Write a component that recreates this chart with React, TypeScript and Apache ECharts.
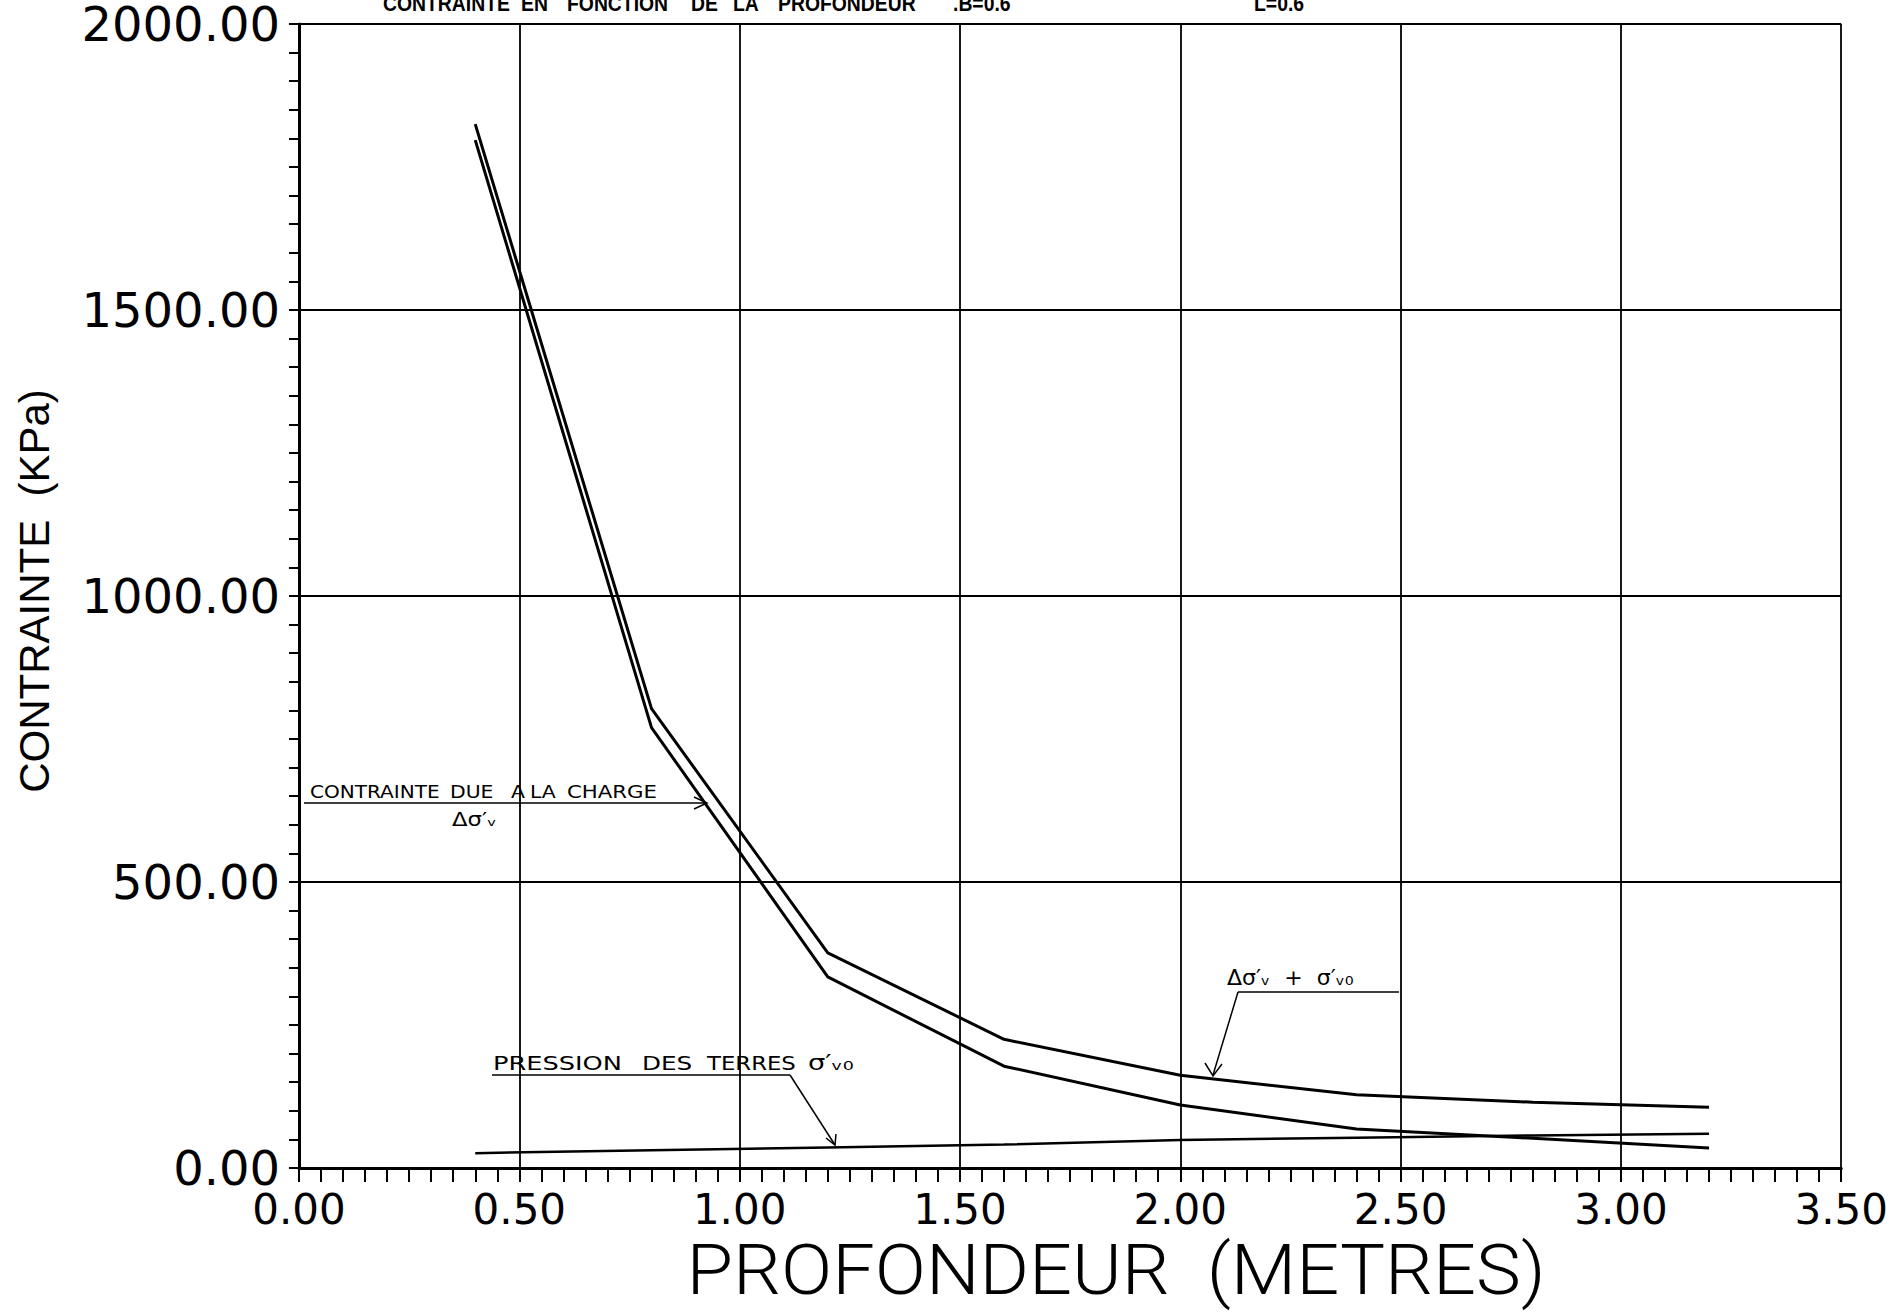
import React, { useEffect, useRef } from "react";
import * as echarts from "echarts";

const depth = [0.4, 0.8, 1.2, 1.6, 2.0, 2.4, 2.8, 3.2];
const chargeStress = [1797, 770, 334, 178, 110, 68, 52, 35];
const totalStress = [1825, 803, 376, 225, 162, 128, 115, 106];
const earthPressure = [26, 31, 36, 41, 49, 53, 57, 60];

const titleWords = [
  { t: "CONTRAINTE", x: 383 },
  { t: "EN", x: 521 },
  { t: "FONCTION", x: 567 },
  { t: "DE", x: 691 },
  { t: "LA", x: 733 },
  { t: "PROFONDEUR", x: 778 },
  { t: ".B=0.6", x: 953 },
  { t: "L=0.6", x: 1254 },
];

const pairs = (ys: number[]) => depth.map((d, i) => [d, ys[i]]);

export default function App() {
  const ref = useRef<HTMLDivElement>(null);
  useEffect(() => {
    if (!ref.current) return;
    const chart = echarts.init(ref.current, undefined, { renderer: "svg" });
    const black = "#000";
    const lineSeries = (name: string, ys: number[], w: number) => ({
      name,
      type: "line",
      data: pairs(ys),
      symbol: "none",
      lineStyle: { color: black, width: w },
      z: 5,
    });
    const hand = "'DejaVu Sans', sans-serif";
    const txt = (text: string, x: number, y: number, size: number, sx = 1.2) => ({
      type: "text",
      x,
      y,
      scaleX: sx,
      style: {
        text,
        fill: black,
        font: `${size}px ${hand}`,
        textAlign: "left",
        textVerticalAlign: "bottom",
      },
    });
    const ln = (x1: number, y1: number, x2: number, y2: number, w = 1.5) => ({
      type: "line",
      shape: { x1, y1, x2, y2 },
      style: { stroke: black, lineWidth: w },
    });
    const pl = (pts: number[][], w = 1.5) => ({
      type: "polyline",
      shape: { points: pts },
      style: { stroke: black, lineWidth: w, fill: "none" },
    });

    chart.setOption({
      animation: false,
      backgroundColor: "#fff",
      grid: { left: 299, right: 46, top: 22, bottom: 148, containLabel: false },
      xAxis: {
        type: "value",
        min: 0,
        max: 3.5,
        interval: 0.5,
        axisLine: { show: true, onZero: false, lineStyle: { color: black, width: 3 } },
        axisTick: { show: true, length: 14, lineStyle: { color: black, width: 2 } },
        minorTick: { show: true, splitNumber: 10, length: 14, lineStyle: { color: black, width: 2 } },
        splitLine: { show: true, lineStyle: { color: black, width: 1.8 } },
        axisLabel: {
          formatter: (v: number) => v.toFixed(2),
          color: black,
          fontSize: 42,
          fontFamily: "'DejaVu Sans', sans-serif",
          margin: 20,
        },
      },
      yAxis: {
        type: "value",
        min: 0,
        max: 2000,
        interval: 500,
        axisLine: { show: true, onZero: false, lineStyle: { color: black, width: 3 } },
        axisTick: { show: true, length: 10, lineStyle: { color: black, width: 2 } },
        minorTick: { show: true, splitNumber: 10, length: 10, lineStyle: { color: black, width: 2 } },
        splitLine: { show: true, lineStyle: { color: black, width: 1.8 } },
        axisLabel: {
          formatter: (v: number) => v.toFixed(2),
          color: black,
          fontSize: 48,
          fontFamily: "'DejaVu Sans', sans-serif",
          margin: 19,
        },
      },
      series: [
        lineSeries("Δσ'v + σ'v0", totalStress, 3),
        lineSeries("Δσ'v", chargeStress, 3),
        lineSeries("σ'v0", earthPressure, 2.5),
      ],
      graphic: [
        ...titleWords.map((w) => ({
          type: "text",
          x: w.x,
          y: 3,
          scaleX: 0.88,
          style: {
            text: w.t,
            fill: black,
            font: "bold 22px 'Liberation Sans', sans-serif",
            textAlign: "left",
            textVerticalAlign: "middle",
          },
        })),
        {
          type: "text",
          x: 1116,
          y: 1270,
          scaleX: 1.08,
          style: {
            text: "PROFONDEUR  (METRES)",
            fill: black,
            font: "300 70px Roboto, 'Liberation Sans', sans-serif",
            textAlign: "center",
            textVerticalAlign: "middle",
          },
        },
        {
          type: "text",
          x: 34,
          y: 591,
          rotation: Math.PI / 2,
          style: {
            text: "CONTRAINTE  (KPa)",
            fill: black,
            font: "42px 'Liberation Sans', sans-serif",
            textAlign: "center",
            textVerticalAlign: "middle",
          },
        },
        // annotation: load stress
        txt("CONTRAINTE", 310, 801, 17, 1.18),
        txt("DUE", 450, 801, 17),
        txt("A", 511, 801, 17),
        txt("LA", 530, 801, 17),
        txt("CHARGE", 567, 801, 17, 1.25),
        ln(304, 803, 706, 803),
        pl([[694, 797], [707, 803], [694, 809]]),
        txt("Δσ′ᵥ", 452, 829, 19),
        // annotation: earth pressure
        txt("PRESSION", 493, 1073, 19, 1.35),
        txt("DES", 642, 1073, 19, 1.3),
        txt("TERRES", 707, 1073, 19, 1.2),
        txt("σ′ᵥ₀", 808, 1073, 21, 1.3),
        ln(492, 1075, 790, 1075),
        ln(790, 1075, 835, 1145),
        pl([[826, 1138], [835, 1145], [836, 1134]]),
        // annotation: total stress
        txt("Δσ′ᵥ  +  σ′ᵥ₀", 1227, 988, 21, 1.05),
        ln(1238, 992, 1399, 992),
        ln(1238, 992, 1213, 1075),
        pl([[1205, 1063], [1213, 1076], [1222, 1064]]),
      ],
    });
    return () => chart.dispose();
  }, []);
  return (
    <div
      ref={ref}
      style={{ position: "absolute", left: 0, top: 0, width: 1891, height: 1316, background: "#fff" }}
    />
  );
}
